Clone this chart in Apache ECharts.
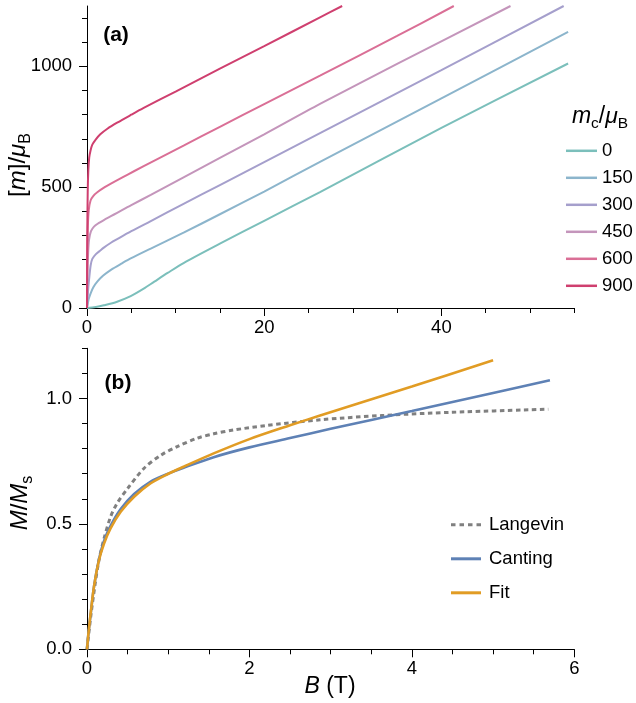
<!DOCTYPE html>
<html><head><meta charset="utf-8">
<script src="https://cdn.jsdelivr.net/npm/echarts@6/dist/echarts.min.js"></script>
<style>html,body{margin:0;padding:0;background:#fff}#c{width:636px;height:703px}</style>
</head><body><div id="c"></div>
<script>
// ---- Panel (a): [m]/muB vs B (T), one curve per m_c ----
const mcNames = ['0', '150', '300', '450', '600', '900'];
const mc0   = [[0,0],[1,4],[1.9,11],[3.4,26],[4.93,49],[6.4,80],[7.6,109],[9.1,145],[10.9,186],[15,266],[20,361],[26.3,480],[40,746],[54.3,1012]];
const mc150 = [[0,0],[0.1,20],[0.2,38],[0.41,61],[0.7,85],[1.16,109],[1.8,133],[2.7,158],[4,186],[4.93,205],[7.2,246],[10.9,312],[15,388],[20,482],[26.3,605],[40,868],[54.3,1143]];
const mc300 = [[0,0],[0.08,50],[0.16,90],[0.23,116],[0.41,176],[0.6,203],[0.98,222],[1.5,238],[1.9,250],[2.7,270],[3.4,285],[5,318],[7.2,360],[10.9,431],[15,509],[20,604],[26.3,724],[40,985],[53.8,1250]];
const mc450 = [[0,0],[0.05,140],[0.12,220],[0.23,282],[0.45,318],[0.79,337],[1.3,351],[1.9,364],[2.7,380],[3.4,394],[5,426],[7.2,468],[10.9,541],[15,621],[20,719],[26.3,845],[35,1010],[47.8,1250]];
const mc600 = [[0,0],[0.03,200],[0.1,340],[0.2,405],[0.4,445],[0.7,463],[1.16,479],[2,500],[2.7,515],[4,541],[5.3,566],[7.5,608],[10.9,672],[15,750],[20,844],[26.3,962],[35,1126],[41.4,1250]];
const mc900 = [[0,0],[0.03,300],[0.08,480],[0.15,570],[0.25,622],[0.4,652],[0.6,676],[1.0,698],[1.5,719],[2.3,742],[3.4,767],[5,800],[6.4,828],[10,896],[15,991],[20,1084],[26.3,1203],[28.8,1250]];
const mcColors = ['#7bbfbb', '#8cb5cc', '#a59fcc', '#c495bb', '#da6f96', '#cf3f6f'];
const topXTicks = [0, 20, 40];
const topXMinor = [5, 10, 15, 25, 30, 35, 45, 50, 55];
const topYTicks = [0, 500, 1000];
const topYMinor = [100, 200, 300, 400, 600, 700, 800, 900, 1100, 1200];

// ---- Panel (b): M/Ms vs B (T) ----
const bNames = ['Langevin', 'Canting', 'Fit'];
const langevin = [[0,0],[0.05,0.14],[0.1,0.26],[0.148,0.356],[0.21,0.442],[0.29,0.528],[0.37,0.582],[0.5,0.641],[0.7,0.721],[0.91,0.774],[1.11,0.808],[1.36,0.842],[1.56,0.859],[1.8,0.874],[2.2,0.892],[2.87,0.915],[3.63,0.932],[4.5,0.945],[5.68,0.957]];
const canting  = [[0,0],[0.02,0.07],[0.045,0.14],[0.086,0.25],[0.148,0.36],[0.21,0.432],[0.29,0.492],[0.415,0.559],[0.58,0.619],[0.78,0.668],[0.99,0.699],[1.19,0.724],[1.56,0.766],[2,0.805],[2.5,0.842],[3,0.879],[4,0.95],[5,1.022],[5.7,1.073]];
const fit      = [[0,0],[0.02,0.07],[0.045,0.143],[0.086,0.25],[0.148,0.356],[0.21,0.422],[0.29,0.482],[0.415,0.548],[0.58,0.608],[0.78,0.661],[0.99,0.698],[1.19,0.728],[1.56,0.781],[2,0.838],[2.5,0.893],[2.87,0.932],[4,1.048],[5,1.152]];
const botXTicks = [0, 2, 4, 6];
const botXMinor = [0.5, 1, 1.5, 2.5, 3, 3.5, 4.5, 5, 5.5];
const botYTicks = [0, 0.5, 1.0];
const botYMinor = [0.1, 0.2, 0.3, 0.4, 0.6, 0.7, 0.8, 0.9, 1.1, 1.2];

const FF = '"Liberation Sans", Arial, Helvetica, sans-serif';
const TICK_FS = 18.5;

function mainAxis(grid, min, max, ticks, pos, fmt, margin) {
  return {
    type: 'value', gridIndex: grid, min: min, max: max, position: pos,
    axisLine: { show: true, onZero: false, lineStyle: { color: '#000', width: 1 } },
    axisTick: { show: true, inside: false, length: 8, customValues: ticks, lineStyle: { color: '#000', width: 1 } },
    axisLabel: { show: true, customValues: ticks, color: '#000', fontSize: TICK_FS, fontFamily: FF, margin: margin, formatter: fmt },
    splitLine: { show: false }
  };
}
function minorAxis(grid, min, max, ticks, pos) {
  return {
    type: 'value', gridIndex: grid, min: min, max: max, position: pos,
    axisLine: { show: false, onZero: false },
    axisTick: { show: true, inside: false, length: 5, customValues: ticks, lineStyle: { color: '#000', width: 1 } },
    axisLabel: { show: false },
    splitLine: { show: false }
  };
}

const series = [];
const topData = [mc0, mc150, mc300, mc450, mc600, mc900];
mcNames.forEach((n, i) => {
  series.push({
    name: n, type: 'line', xAxisIndex: 0, yAxisIndex: 0, data: topData[i],
    showSymbol: false, symbol: 'none', smooth: 0.3, clip: true,
    lineStyle: { color: mcColors[i], width: 2 }, itemStyle: { color: mcColors[i] }
  });
});
const bData = [langevin, canting, fit];
const bColors = ['#808080', '#5e81b5', '#e19c24'];
bNames.forEach((n, i) => {
  series.push({
    name: n, type: 'line', xAxisIndex: 2, yAxisIndex: 2, data: bData[i],
    showSymbol: false, symbol: 'none', smooth: 0.3, clip: true,
    lineStyle: { color: bColors[i], width: i === 0 ? 3 : 2.6, type: i === 0 ? [4.5, 3.5] : 'solid' },
    itemStyle: { color: bColors[i] }
  });
});

const DASH_ICON = 'path://M0,0h4.5v3h-4.5z M8.5,0h4.5v3h-4.5z M17,0h4.5v3h-4.5z M25.5,0h4.5v3h-4.5z';
const legends = [];
mcNames.forEach((n, i) => {
  legends.push({
    data: [{ name: n, icon: 'rect' }], orient: 'vertical', left: 566, top: 149.3 + i * 27 - 8.5,
    itemWidth: 31, itemHeight: 2.5, itemGap: 0, padding: 0, selectedMode: false,
    textStyle: { color: '#000', fontSize: TICK_FS, fontFamily: FF, lineHeight: 20 }
  });
});
bNames.forEach((n, i) => {
  legends.push({
    data: [{ name: n, icon: i === 0 ? DASH_ICON : 'rect' }], orient: 'vertical', left: 451, top: 523.3 + i * 34 - 8.5,
    itemWidth: 30, itemHeight: 3, itemGap: 0, padding: 0, selectedMode: false,
    textStyle: { color: '#000', fontSize: TICK_FS, fontFamily: FF, lineHeight: 20, padding: [0, 0, 0, 3] }
  });
});

const richBase = {
  n: { fontSize: 23, fontFamily: FF, color: '#000' },
  i: { fontSize: 23, fontFamily: FF, fontStyle: 'italic', color: '#000' },
  s: { fontSize: 15.5, fontFamily: FF, color: '#000', padding: [14, 0, 0, 0] }
};
const richY = {
  n: { fontSize: 24, fontFamily: FF, color: '#000' },
  i: { fontSize: 24, fontFamily: FF, fontStyle: 'italic', color: '#000' },
  s: { fontSize: 16, fontFamily: FF, color: '#000', padding: [15, 0, 0, 0] }
};
function label(x, y, text, rot, rich) {
  return {
    type: 'text', x: x, y: y, rotation: rot || 0,
    style: { text: text, rich: rich, align: 'center', verticalAlign: 'middle', textAlign: 'center', textVerticalAlign: 'middle', fill: '#000' }
  };
}

const chart = echarts.init(document.getElementById('c'), null, { renderer: 'canvas' });
chart.setOption({
  backgroundColor: '#fff',
  animation: false,
  grid: [
    { left: 87, top: 6, width: 487.3, height: 302, containLabel: false },
    { left: 87, top: 348.3, width: 487.3, height: 301, containLabel: false }
  ],
  xAxis: [
    mainAxis(0, 0, 55, topXTicks, 'bottom', v => String(v), 10),
    minorAxis(0, 0, 55, topXMinor, 'bottom'),
    mainAxis(1, 0, 6, botXTicks, 'bottom', v => String(v), 10),
    minorAxis(1, 0, 6, botXMinor, 'bottom')
  ],
  yAxis: [
    mainAxis(0, 0, 1250, topYTicks, 'left', v => String(v), 15),
    minorAxis(0, 0, 1250, topYMinor, 'left'),
    mainAxis(1, 0, 1.2, botYTicks, 'left', v => v.toFixed(1), 15),
    minorAxis(1, 0, 1.2, botYMinor, 'left')
  ],
  legend: legends,
  series: series,
  graphic: [
    { type: 'text', x: 116, y: 35, style: { text: '(a)', font: 'bold 21px ' + FF, fill: '#000', align: 'center', verticalAlign: 'middle', textAlign: 'center', textVerticalAlign: 'middle' } },
    { type: 'text', x: 118, y: 383, style: { text: '(b)', font: 'bold 21px ' + FF, fill: '#000', align: 'center', verticalAlign: 'middle', textAlign: 'center', textVerticalAlign: 'middle' } },
    label(18, 165, '{n|[}{i|m}{n|]/}{i|μ}{s|B}', Math.PI / 2, richY),
    label(20, 503, '{i|M}{n|/}{i|M}{s|s}', Math.PI / 2, richY),
    label(330, 687, '{i|B}{n| (T)}', 0, richBase),
    label(600, 117, '{i|m}{s|c}{n|/}{i|μ}{s|B}', 0, richBase)
  ]
});
</script>
</body></html>
